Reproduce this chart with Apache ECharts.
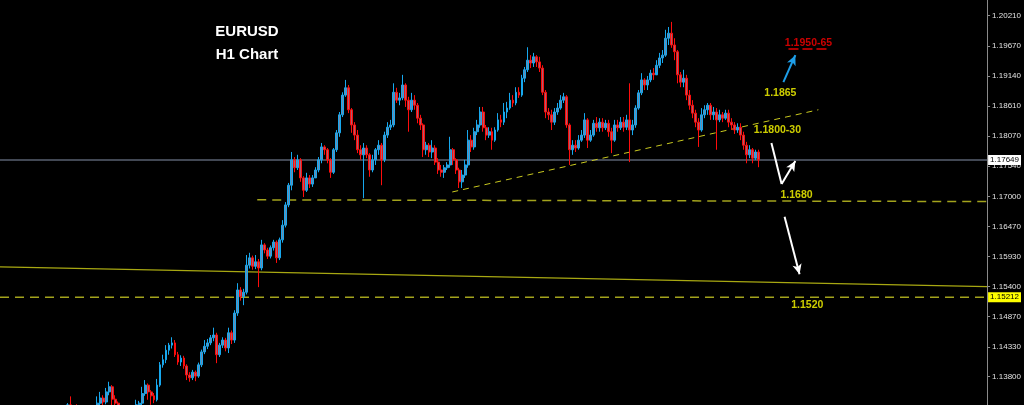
<!DOCTYPE html>
<html><head><meta charset="utf-8">
<script src="https://cdn.jsdelivr.net/npm/echarts@6/dist/echarts.min.js"></script>
<style>html,body{margin:0;padding:0;background:#000;}#c{width:1024px;height:405px;}</style>
</head><body><div id="c"></div>
<script>
// ---- EURUSD H1 candles ----
const opens=[
1.1300,1.1305,1.1310,1.1302,1.1298,1.1306,1.1312,1.1308,1.1300,1.1294,
1.1290,1.1297,1.1303,1.1299,1.1292,1.1296,1.1304,1.1311,1.1307,1.1301,
1.1305,1.1313,1.1318,1.1330,1.1320,1.1322,1.1316,1.1310,1.1306,1.1314,
1.1310,1.1317,1.1322,1.1333,1.1342,1.1335,1.1353,1.1362,1.1340,1.1333,
1.1325,1.1318,1.1314,1.1320,1.1316,1.1322,1.1330,1.1333,1.1350,1.1365,
1.1353,1.1346,1.1339,1.1365,1.1401,1.1410,1.1427,1.1436,1.1440,1.1419,
1.1406,1.1413,1.1399,1.1383,1.1378,1.1388,1.1381,1.1401,1.1424,1.1434,
1.1440,1.1449,1.1454,1.1419,1.1436,1.1445,1.1431,1.1458,1.1445,1.1493,
1.1534,1.1522,1.1530,1.1578,1.1591,1.1576,1.1584,1.1573,1.1614,1.1605,
1.1594,1.1609,1.1619,1.1591,1.1623,1.1649,1.1685,1.1720,1.1765,1.1751,
1.1765,1.1733,1.1711,1.1733,1.1722,1.1733,1.1747,1.1765,1.1788,1.1783,
1.1765,1.1743,1.1783,1.1813,1.1845,1.1880,1.1893,1.1854,1.1827,1.1809,
1.1783,1.1774,1.1786,1.1774,1.1747,1.1765,1.1783,1.1791,1.1765,1.1809,
1.1823,1.1827,1.1885,1.1871,1.1875,1.1898,1.1871,1.1854,1.1871,1.1862,
1.1839,1.1827,1.1783,1.1791,1.1779,1.1786,1.1761,1.1747,1.1743,1.1751,
1.1756,1.1783,1.1765,1.1747,1.1726,1.1738,1.1756,1.1800,1.1788,1.1815,
1.1827,1.1850,1.1822,1.1809,1.1815,1.1800,1.1818,1.1836,1.1832,1.1850,
1.1857,1.1871,1.1866,1.1885,1.1880,1.1910,1.1925,1.1942,1.1937,1.1948,
1.1939,1.1928,1.1885,1.1850,1.1845,1.1832,1.1850,1.1857,1.1871,1.1877,
1.1827,1.1783,1.1791,1.1786,1.1800,1.1809,1.1836,1.1800,1.1809,1.1830,
1.1822,1.1832,1.1822,1.1830,1.1815,1.1800,1.1827,1.1822,1.1832,1.1823,
1.1836,1.1818,1.1827,1.1857,1.1884,1.1907,1.1898,1.1907,1.1919,1.1916,
1.1933,1.1946,1.1951,1.1981,1.1990,1.1969,1.1957,1.1916,1.1903,1.1910,
1.1880,1.1862,1.1848,1.1832,1.1818,1.1845,1.1854,1.1862,1.1845,1.1850,
1.1836,1.1845,1.1839,1.1848,1.1832,1.1827,1.1818,1.1823,1.1809,1.1791,
1.1774,1.1783,1.1768,1.1779];
const closes=[
1.1305,1.1310,1.1302,1.1298,1.1306,1.1312,1.1308,1.1300,1.1294,1.1290,
1.1297,1.1303,1.1299,1.1292,1.1296,1.1304,1.1311,1.1307,1.1301,1.1305,
1.1313,1.1318,1.1330,1.1320,1.1322,1.1316,1.1310,1.1306,1.1314,1.1310,
1.1317,1.1322,1.1333,1.1342,1.1335,1.1353,1.1362,1.1340,1.1333,1.1325,
1.1318,1.1314,1.1320,1.1316,1.1322,1.1330,1.1333,1.1350,1.1365,1.1353,
1.1346,1.1339,1.1365,1.1401,1.1410,1.1427,1.1436,1.1440,1.1419,1.1406,
1.1413,1.1399,1.1383,1.1378,1.1388,1.1381,1.1401,1.1424,1.1434,1.1440,
1.1449,1.1454,1.1419,1.1436,1.1445,1.1431,1.1458,1.1445,1.1493,1.1534,
1.1522,1.1530,1.1578,1.1591,1.1576,1.1584,1.1573,1.1614,1.1605,1.1594,
1.1609,1.1619,1.1591,1.1623,1.1649,1.1685,1.1720,1.1765,1.1751,1.1765,
1.1733,1.1711,1.1733,1.1722,1.1733,1.1747,1.1765,1.1788,1.1783,1.1765,
1.1743,1.1783,1.1813,1.1845,1.1880,1.1893,1.1854,1.1827,1.1809,1.1783,
1.1774,1.1786,1.1774,1.1747,1.1765,1.1783,1.1791,1.1765,1.1809,1.1823,
1.1827,1.1885,1.1871,1.1875,1.1898,1.1871,1.1854,1.1871,1.1862,1.1839,
1.1827,1.1783,1.1791,1.1779,1.1786,1.1761,1.1747,1.1743,1.1751,1.1756,
1.1783,1.1765,1.1747,1.1726,1.1738,1.1756,1.1800,1.1788,1.1815,1.1827,
1.1850,1.1822,1.1809,1.1815,1.1800,1.1818,1.1836,1.1832,1.1850,1.1857,
1.1871,1.1866,1.1885,1.1880,1.1910,1.1925,1.1942,1.1937,1.1948,1.1939,
1.1928,1.1885,1.1850,1.1845,1.1832,1.1850,1.1857,1.1871,1.1877,1.1827,
1.1783,1.1791,1.1786,1.1800,1.1809,1.1836,1.1800,1.1809,1.1830,1.1822,
1.1832,1.1822,1.1830,1.1815,1.1800,1.1827,1.1822,1.1832,1.1823,1.1836,
1.1818,1.1827,1.1857,1.1884,1.1907,1.1898,1.1907,1.1919,1.1916,1.1933,
1.1946,1.1951,1.1981,1.1990,1.1969,1.1957,1.1916,1.1903,1.1910,1.1880,
1.1862,1.1848,1.1832,1.1818,1.1845,1.1854,1.1862,1.1845,1.1850,1.1836,
1.1845,1.1839,1.1848,1.1832,1.1827,1.1818,1.1823,1.1809,1.1791,1.1774,
1.1783,1.1768,1.1779,1.1765];
const lows=[
1.1296,1.1301,1.1299,1.1293,1.1295,1.1303,1.1304,1.1296,1.1290,1.1285,
1.1287,1.1294,1.1295,1.1288,1.1289,1.1293,1.1301,1.1303,1.1297,1.1298,
1.1302,1.1309,1.1314,1.1315,1.1314,1.1311,1.1306,1.1301,1.1303,1.1305,
1.1307,1.1313,1.1319,1.1328,1.1329,1.1331,1.1347,1.1325,1.1322,1.1318,
1.1312,1.1309,1.1310,1.1311,1.1313,1.1318,1.1325,1.1329,1.1346,1.1339,
1.1330,1.1333,1.1336,1.1362,1.1396,1.1404,1.1419,1.1430,1.1415,1.1401,
1.1399,1.1394,1.1374,1.1371,1.1374,1.1372,1.1378,1.1397,1.1420,1.1429,
1.1436,1.1443,1.1404,1.1415,1.1431,1.1425,1.1422,1.1438,1.1440,1.1488,
1.1515,1.1507,1.1526,1.1572,1.1570,1.1571,1.1539,1.1569,1.1599,1.1589,
1.1590,1.1604,1.1582,1.1587,1.1618,1.1645,1.1681,1.1711,1.1743,1.1747,
1.1726,1.1699,1.1708,1.1715,1.1717,1.1733,1.1743,1.1759,1.1774,1.1759,
1.1733,1.1740,1.1779,1.1806,1.1841,1.1877,1.1848,1.1813,1.1800,1.1777,
1.1765,1.1697,1.1768,1.1735,1.1743,1.1756,1.1774,1.1720,1.1761,1.1804,
1.1818,1.1823,1.1866,1.1862,1.1871,1.1859,1.1815,1.1850,1.1854,1.1830,
1.1818,1.1770,1.1774,1.1770,1.1768,1.1756,1.1740,1.1735,1.1733,1.1747,
1.1751,1.1756,1.1740,1.1715,1.1715,1.1733,1.1751,1.1779,1.1783,1.1809,
1.1822,1.1815,1.1800,1.1804,1.1783,1.1797,1.1815,1.1823,1.1827,1.1839,
1.1854,1.1859,1.1862,1.1875,1.1877,1.1903,1.1921,1.1928,1.1930,1.1930,
1.1921,1.1880,1.1839,1.1836,1.1818,1.1827,1.1845,1.1854,1.1866,1.1822,
1.1756,1.1774,1.1779,1.1783,1.1797,1.1804,1.1786,1.1797,1.1806,1.1815,
1.1815,1.1815,1.1818,1.1806,1.1777,1.1797,1.1815,1.1818,1.1815,1.1818,
1.1761,1.1809,1.1822,1.1854,1.1880,1.1889,1.1889,1.1903,1.1907,1.1921,
1.1928,1.1937,1.1948,1.1969,1.1964,1.1942,1.1901,1.1894,1.1894,1.1871,
1.1854,1.1839,1.1823,1.1788,1.1815,1.1839,1.1845,1.1836,1.1836,1.1783,
1.1832,1.1832,1.1836,1.1823,1.1818,1.1811,1.1813,1.1800,1.1783,1.1759,
1.1768,1.1759,1.1765,1.1752];
const highs=[
1.1309,1.1314,1.1313,1.1305,1.1309,1.1316,1.1315,1.1310,1.1303,1.1297,
1.1300,1.1306,1.1306,1.1301,1.1299,1.1307,1.1314,1.1315,1.1310,1.1309,
1.1316,1.1322,1.1333,1.1345,1.1328,1.1331,1.1319,1.1313,1.1317,1.1318,
1.1320,1.1326,1.1345,1.1353,1.1347,1.1360,1.1371,1.1365,1.1347,1.1336,
1.1328,1.1321,1.1323,1.1324,1.1326,1.1339,1.1337,1.1362,1.1374,1.1368,
1.1356,1.1351,1.1376,1.1406,1.1419,1.1436,1.1440,1.1450,1.1445,1.1424,
1.1418,1.1417,1.1402,1.1388,1.1392,1.1391,1.1405,1.1428,1.1445,1.1447,
1.1454,1.1467,1.1458,1.1440,1.1450,1.1449,1.1467,1.1462,1.1498,1.1546,
1.1539,1.1536,1.1596,1.1600,1.1595,1.1596,1.1589,1.1623,1.1617,1.1609,
1.1613,1.1623,1.1622,1.1627,1.1658,1.1690,1.1724,1.1779,1.1770,1.1774,
1.1768,1.1736,1.1742,1.1738,1.1738,1.1752,1.1770,1.1795,1.1791,1.1786,
1.1768,1.1786,1.1818,1.1850,1.1885,1.1907,1.1898,1.1857,1.1832,1.1818,
1.1791,1.1795,1.1791,1.1777,1.1774,1.1786,1.1800,1.1795,1.1815,1.1832,
1.1836,1.1901,1.1893,1.1884,1.1916,1.1901,1.1877,1.1884,1.1880,1.1866,
1.1845,1.1830,1.1797,1.1795,1.1800,1.1791,1.1768,1.1756,1.1756,1.1761,
1.1806,1.1786,1.1768,1.1751,1.1747,1.1765,1.1818,1.1809,1.1822,1.1836,
1.1859,1.1859,1.1827,1.1823,1.1822,1.1823,1.1848,1.1845,1.1866,1.1868,
1.1884,1.1880,1.1894,1.1894,1.1916,1.1930,1.1965,1.1951,1.1955,1.1951,
1.1948,1.1933,1.1889,1.1857,1.1854,1.1857,1.1866,1.1880,1.1884,1.1880,
1.1830,1.1800,1.1800,1.1809,1.1818,1.1848,1.1839,1.1818,1.1836,1.1841,
1.1839,1.1839,1.1836,1.1836,1.1822,1.1836,1.1836,1.1841,1.1841,1.1845,
1.1901,1.1836,1.1862,1.1889,1.1919,1.1910,1.1914,1.1925,1.1928,1.1942,
1.1955,1.1960,1.1996,1.2001,1.2010,1.1981,1.1960,1.1921,1.1925,1.1916,
1.1889,1.1871,1.1854,1.1839,1.1857,1.1862,1.1866,1.1866,1.1859,1.1857,
1.1854,1.1850,1.1854,1.1854,1.1839,1.1832,1.1830,1.1830,1.1815,1.1797,
1.1791,1.1786,1.1783,1.1783];

// y-axis tick labels of the price scale
const yTicks=[1.13800,1.14330,1.14870,1.15400,1.15930,1.16470,1.17000,1.17540,1.18070,1.18610,1.19140,1.19670,1.20210];
const yMin=1.13297, yMax=1.20489;
const totalSlots=330;              // bar slots incl. empty chart shift on the right
const currentPrice=1.17649;
const supportBox=1.15212;

// drawn objects (x in bar slots, y in price)
const priceLine=[[0,currentPrice],[330,currentPrice]];
const supportLine=[[0,supportBox],[330,supportBox]];
const longLine=[[0,1.1575],[330,1.1540]];
const level1680=[[86,1.1694],[330,1.1691]];
const trendLine=[[151.2,1.1708],[273.6,1.1854]];
const blueArrow=[[261.9,1.1903],[265.9,1.1951]];
const whiteArrowA=[[257.9,1.1795],[261.3,1.1722],[265.9,1.1763]];
const whiteArrowB=[[262.3,1.1664],[267.3,1.1562]];
const redUnderline=[[263.6,1.1963],[277.3,1.1963]];
const notes=[
 {t:'1.1950-65',x:270.3,y:1.1973,c:'#ff0000'},
 {t:'1.1865',x:260.9,y:1.1884,c:'#ffff00'},
 {t:'1.1800-30',x:259.9,y:1.1817,c:'#ffff00'},
 {t:'1.1680',x:266.3,y:1.1703,c:'#ffff00'},
 {t:'1.1520',x:269.9,y:1.1507,c:'#ffff00'}
];

const cats=Array.from({length:totalSlots},(_,i)=>i);
const candles=cats.map(i=> i<opens.length ? [opens[i],closes[i],lows[i],highs[i]] : '-');

function seg(a,b,arrow,color,w,type){
  return [{coord:a,symbol:'none'},{coord:b,symbol:arrow?'arrow':'none',symbolSize:[7,10],lineStyle:{color:color,width:w,type:type||'solid'}}];
}
const F='"Liberation Sans", Arial, sans-serif';
function boxLabel(txt,bg){
  return {show:true,formatter:txt,color:'#000',backgroundColor:bg,fontSize:8,fontFamily:F,padding:[1,2,1,2],distance:1,offset:[0,0]};
}

const chart=echarts.init(document.getElementById('c'),null,{renderer:'canvas'});
chart.setOption({
  animation:false,
  backgroundColor:'#000000',
  grid:{left:0,right:35,top:0,bottom:0},
  xAxis:[
    {type:'category',data:cats,show:false,boundaryGap:true},
    {type:'value',min:0,max:totalSlots,show:false}
  ],
  yAxis:{type:'value',position:'right',min:yMin,max:yMax,
    splitLine:{show:false},
    axisLine:{show:true,onZero:false,lineStyle:{color:'#8a8a8a',width:1}},
    axisTick:{show:true,customValues:yTicks,length:3,lineStyle:{color:'#8a8a8a'}},
    axisLabel:{show:true,customValues:yTicks,formatter:v=>v.toFixed(5),color:'#e2e2e2',fontSize:8,fontFamily:F,margin:5}
  },
  graphic:[
    {type:'text',x:247,y:32,silent:true,style:{text:'EURUSD',fill:'#ffffff',font:'bold 15px '+F,textAlign:'center',textVerticalAlign:'middle'}},
    {type:'text',x:247,y:55,silent:true,style:{text:'H1 Chart',fill:'#ffffff',font:'bold 15px '+F,textAlign:'center',textVerticalAlign:'middle'}}
  ],
  series:[
    {type:'line',xAxisIndex:1,data:priceLine,symbol:'none',silent:true,z:1,lineStyle:{color:'#596170',width:1.5},
      endLabel:boxLabel(currentPrice.toFixed(5),'#ffffff')},
    {type:'line',xAxisIndex:1,data:supportLine,symbol:'none',silent:true,z:1,lineStyle:{color:'#a3a31c',width:1.5,type:[9,6]},
      endLabel:boxLabel(supportBox.toFixed(5),'#ffff00')},
    {type:'line',xAxisIndex:1,data:longLine,symbol:'none',silent:true,z:1,lineStyle:{color:'#a8a812',width:1.3}},
    {type:'line',xAxisIndex:1,data:level1680,symbol:'none',silent:true,z:1,lineStyle:{color:'#a3a31c',width:1.5,type:[9,6]}},
    {type:'line',xAxisIndex:1,data:trendLine,symbol:'none',silent:true,z:1,lineStyle:{color:'#c9c920',width:1,type:[6,5]}},
    {type:'candlestick',xAxisIndex:0,data:candles,barWidth:2.4,silent:true,z:3,
      itemStyle:{color:'#7088aa',color0:'#a86070',borderColor:'#17a8ee',borderColor0:'#ff0c0c',borderWidth:1}
    },
    {type:'scatter',xAxisIndex:1,silent:true,z:5,symbolSize:0,
      data:notes.map(n=>({value:[n.x,n.y],label:{show:true,position:'inside',formatter:n.t,color:n.c,fontWeight:'bold',fontSize:10.5,fontFamily:F}})),
      markLine:{silent:true,animation:false,symbol:'none',lineStyle:{color:'#fff',width:2,type:'solid'},label:{show:false},
        data:[
          seg(blueArrow[0],blueArrow[1],true,'#1e9ee8',2),
          seg(whiteArrowA[0],whiteArrowA[1],false,'#ffffff',2),
          seg(whiteArrowA[1],whiteArrowA[2],true,'#ffffff',2),
          seg(whiteArrowB[0],whiteArrowB[1],true,'#ffffff',2),
          seg(redUnderline[0],redUnderline[1],false,'#e00000',1.5,[10,4])
        ]}
    }
  ]
});
</script></body></html>
